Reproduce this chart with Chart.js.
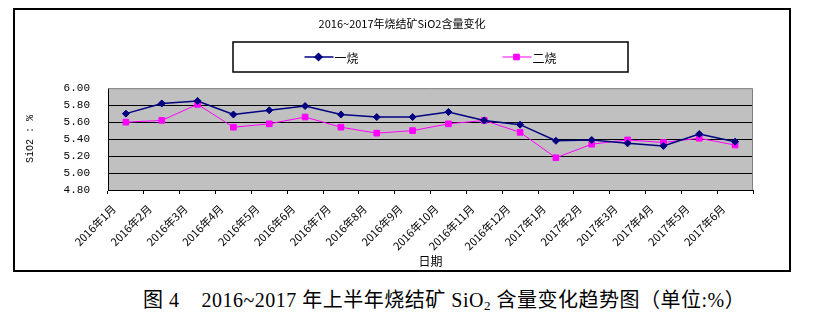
<!DOCTYPE html>
<html lang="zh">
<head>
<meta charset="UTF-8">
<title>2016~2017年烧结矿SiO2含量变化</title>
<script src="https://cdn.jsdelivr.net/npm/chart.js"></script>
<style>
  body { margin: 0; background: #fff; width: 820px; height: 323px; overflow: hidden; }
  .chart-box { position: absolute; left: 0; top: 0; width: 820px; height: 280px; }
  .caption {
    position: absolute; left: 143px; top: 288px; white-space: nowrap; letter-spacing: 0.5px;
    font-family: "Liberation Serif", "Noto Sans CJK SC", serif; font-size: 20px; line-height: 24px; color: #000;
  }
  .caption sub { font-size: 13px; vertical-align: -3px; }
</style>
</head>
<body>
<div class="chart-box"><canvas id="sio2Chart"></canvas></div>
<div class="caption">图 4&nbsp;&nbsp;&nbsp; 2016~2017 年上半年烧结矿 SiO<sub>2</sub> 含量变化趋势图（单位:%）</div>

<script>
    // monthly SiO2 content of sinter, %
    const months = ['2016年1月', '2016年2月', '2016年3月', '2016年4月', '2016年5月', '2016年6月',
        '2016年7月', '2016年8月', '2016年9月', '2016年10月', '2016年11月', '2016年12月',
        '2017年1月', '2017年2月', '2017年3月', '2017年4月', '2017年5月', '2017年6月'];
    const sinter1 = [5.70, 5.82, 5.85, 5.69, 5.74, 5.79, 5.69, 5.66, 5.66, 5.72, 5.62, 5.57,
        5.38, 5.39, 5.35, 5.32, 5.46, 5.37];
    const sinter2 = [5.60, 5.62, 5.81, 5.54, 5.58, 5.66, 5.54, 5.47, 5.50, 5.58, 5.62, 5.48,
        5.18, 5.34, 5.39, 5.36, 5.41, 5.33];
    const yMin = 4.8, yMax = 6.0, yStep = 0.2;

    Chart.defaults.font.family = '"Noto Sans CJK SC", sans-serif';
    Chart.defaults.color = '#000';

    // grey plot background plus outer frame
    const frame = {
        id: 'frame',
        beforeDraw(chart) {
            const {ctx, chartArea: a, width, height} = chart;
            const p = chart.options.layout.padding;
            ctx.save();
            ctx.fillStyle = '#c0c0c0';
            ctx.fillRect(a.left, a.top, a.right - a.left, a.bottom - a.top);
            ctx.strokeStyle = '#000';
            ctx.lineWidth = 2;
            ctx.strokeRect(p.left, p.top, width - p.left - p.right, height - p.top - p.bottom);
            ctx.restore();
        },
        beforeDatasetsDraw(chart) {
            const {ctx, chartArea: a} = chart;
            ctx.save();
            ctx.strokeStyle = '#808080';
            ctx.lineWidth = 1;
            ctx.beginPath();
            ctx.moveTo(a.left, a.top + 0.5);
            ctx.lineTo(a.right - 0.5, a.top + 0.5);
            ctx.lineTo(a.right - 0.5, a.bottom);
            ctx.stroke();
            ctx.restore();
        }
    };

    // legend inside a box, line sample with marker for each series
    const boxedLegend = {
        id: 'boxedLegend',
        afterDraw(chart, args, opts) {
            const {ctx, chartArea: a} = chart;
            const cx = (a.left + a.right) / 2;
            const cy = opts.top + opts.height / 2;
            const n = chart.data.datasets.length;
            ctx.save();
            ctx.strokeStyle = '#000';
            ctx.lineWidth = 1.5;
            ctx.strokeRect(cx - opts.width / 2, opts.top, opts.width, opts.height);
            ctx.font = '12px "Noto Sans CJK SC", sans-serif';
            ctx.textBaseline = 'middle';
            chart.data.datasets.forEach((ds, i) => {
                const x0 = cx + (i - (n - 1) / 2) * opts.spacing - 27;
                ctx.strokeStyle = ds.borderColor;
                ctx.fillStyle = ds.backgroundColor;
                ctx.lineWidth = ds.borderWidth;
                ctx.beginPath();
                ctx.moveTo(x0, cy);
                ctx.lineTo(x0 + 29, cy);
                ctx.stroke();
                Chart.helpers.drawPoint(ctx, {pointStyle: ds.pointStyle, radius: ds.pointRadius, borderWidth: 1}, x0 + 14, cy);
                ctx.fillStyle = '#000';
                ctx.fillText(ds.label, x0 + 30, cy + 1);
            });
            ctx.restore();
        }
    };

    new Chart(document.getElementById('sio2Chart'), {
        type: 'line',
        data: {
            labels: months,
            datasets: [
                {
                    label: '一烧',
                    data: sinter1,
                    borderColor: '#000080',
                    backgroundColor: '#000080',
                    borderWidth: 1.5,
                    pointStyle: 'rectRot',
                    pointRadius: 3.5,
                    pointBorderWidth: 1,
                    tension: 0
                },
                {
                    label: '二烧',
                    data: sinter2,
                    borderColor: '#ff00ff',
                    backgroundColor: '#ff00ff',
                    borderWidth: 1,
                    pointStyle: 'rect',
                    pointRadius: 4,
                    pointBorderWidth: 1,
                    tension: 0
                }
            ]
        },
        options: {
            responsive: true,
            maintainAspectRatio: false,
            animation: false,
            layout: { padding: { left: 14, top: 9, right: 30, bottom: 9 } },
            plugins: {
                legend: { display: false },
                tooltip: { enabled: false },
                title: {
                    display: true,
                    text: '2016~2017年烧结矿SiO2含量变化',
                    font: { size: 11, weight: 'normal' },
                    padding: { top: 8, bottom: 58 }
                },
                boxedLegend: { top: 42, height: 30, width: 395, spacing: 198 }
            },
            scales: {
                x: {
                    offset: true,
                    grid: { display: true, drawOnChartArea: false, offset: true, color: '#000', tickLength: 4 },
                    border: { color: '#000', width: 1 },
                    ticks: { minRotation: 45, maxRotation: 45, autoSkip: false, padding: 8, labelOffset: -12, font: { size: 11 } },
                    title: { display: true, text: '日期', font: { size: 12 }, padding: { top: 0, bottom: 2 } },
                    afterFit(s) { s.height = 81; }
                },
                y: {
                    min: yMin,
                    max: yMax,
                    grid: {
                        drawTicks: false,
                        color: c => (Math.abs(c.tick.value - yMax) < 1e-6 || Math.abs(c.tick.value - yMin) < 1e-6) ? 'rgba(0,0,0,0)' : '#000'
                    },
                    border: { color: '#000', width: 1 },
                    ticks: {
                        stepSize: yStep,
                        padding: 18,
                        font: { family: '"Liberation Mono", monospace', size: 11 },
                        callback: v => v.toFixed(2)
                    },
                    title: {
                        display: true,
                        text: 'SiO2 : %',
                        font: { family: '"Liberation Mono", monospace', size: 10 },
                        padding: { top: 10, bottom: 0 }
                    },
                    afterFit(s) { s.width = 94; }
                },
                yR: {
                    position: 'right',
                    grid: { display: false },
                    border: { display: false },
                    ticks: { display: false },
                    afterFit(s) { s.width = 37; }
                }
            }
        },
        plugins: [frame, boxedLegend]
    });
</script>
</body>
</html>
